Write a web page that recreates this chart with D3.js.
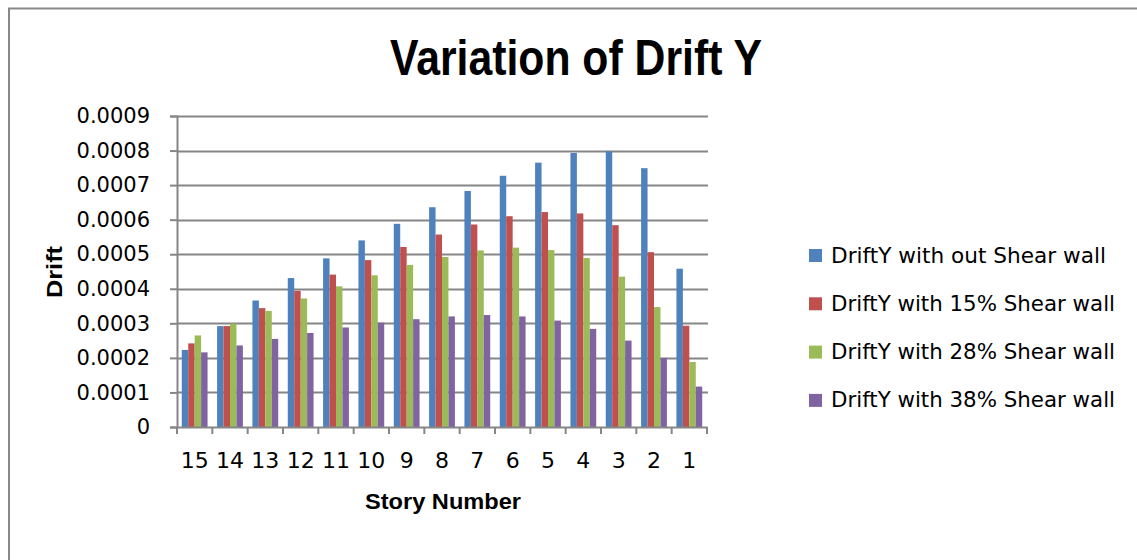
<!DOCTYPE html>
<html>
<head>
<meta charset="utf-8">
<script src="https://cdn.jsdelivr.net/npm/d3@7"></script>
<style>
  body { margin: 0; background: #fff; }
  text { font-family: "DejaVu Sans", sans-serif; fill: #000; }
</style>
</head>
<body>
<div class="viz"></div>
<script>
// Story numbers (x categories)
const stories = ["15", "14", "13", "12", "11", "10", "9", "8", "7", "6", "5", "4", "3", "2", "1"];

const seriesNames = [
  "DriftY with out Shear wall",
  "DriftY with 15% Shear wall",
  "DriftY with 28% Shear wall",
  "DriftY with 38% Shear wall",
];

const noWall = [0.000223, 0.000292, 0.000366, 0.000431, 0.000488, 0.00054, 0.000588, 0.000636, 0.000683, 0.000727, 0.000765, 0.000793, 0.000798, 0.000749, 0.000458];
const wall15 = [0.000242, 0.000292, 0.000344, 0.000394, 0.000441, 0.000483, 0.000521, 0.000557, 0.000586, 0.00061, 0.000622, 0.000618, 0.000584, 0.000506, 0.000293];
const wall28 = [0.000265, 0.000299, 0.000336, 0.000372, 0.000407, 0.000439, 0.000469, 0.000492, 0.000511, 0.000519, 0.000512, 0.000489, 0.000435, 0.000347, 0.000188];
const wall38 = [0.000216, 0.000236, 0.000255, 0.000272, 0.000288, 0.000302, 0.000312, 0.00032, 0.000324, 0.00032, 0.000308, 0.000284, 0.00025, 0.0002, 0.000117];

const yTicks = [0, 0.0001, 0.0002, 0.0003, 0.0004, 0.0005, 0.0006, 0.0007, 0.0008, 0.0009];

const colors = ["#4F81BD", "#C0504D", "#9BBB59", "#8064A2"];
const allSeries = [noWall, wall15, wall28, wall38];

const totalWidth = 1137;
const totalHeight = 560;
const plot = { left: 177, right: 707, top: 116, bottom: 427 };
const gridColor = "#868686";

const svg = d3.select(".viz")
  .append("svg")
  .attr("width", totalWidth)
  .attr("height", totalHeight);

// Chart border
svg.append("rect")
  .attr("x", 9)
  .attr("y", 8.5)
  .attr("width", 1140)
  .attr("height", 560)
  .attr("fill", "#fff")
  .attr("stroke", "#888")
  .attr("stroke-width", 2);

// Scales
const x0 = d3.scaleBand().domain(stories).range([plot.left, plot.right]).padding(0);
const bw = x0.bandwidth();
const x1 = d3.scaleBand().domain(d3.range(4)).range([bw * 0.135, bw * 0.865]).padding(0);
const y = d3.scaleLinear().domain([0, 0.0009]).range([plot.bottom, plot.top]);

// Gridlines
svg.append("g")
  .selectAll("line")
  .data(yTicks.slice(1))
  .enter()
  .append("line")
  .attr("x1", plot.left)
  .attr("x2", plot.right + 1)
  .attr("y1", (d) => Math.round(y(d)) + 0.5)
  .attr("y2", (d) => Math.round(y(d)) + 0.5)
  .attr("stroke", gridColor)
  .attr("stroke-width", 2);

// Bars
const groups = svg.append("g")
  .selectAll("g")
  .data(stories)
  .enter()
  .append("g")
  .attr("transform", (d) => `translate(${x0(d)},0)`);

groups.selectAll("rect")
  .data((d, i) => allSeries.map((s, k) => ({ k, v: s[i] })))
  .enter()
  .append("rect")
  .attr("x", (d) => x1(d.k))
  .attr("y", (d) => y(d.v))
  .attr("width", x1.bandwidth())
  .attr("height", (d) => y(0) - y(d.v))
  .attr("fill", (d) => colors[d.k]);

// Y axis
const yAxis = svg.append("g")
  .attr("transform", `translate(${plot.left},0)`)
  .call(d3.axisLeft(y).tickValues(yTicks).tickSize(7).tickPadding(20)
    .tickFormat((d) => (d === 0 ? "0" : d3.format(".4f")(d))));
yAxis.select(".domain").attr("stroke", gridColor).attr("stroke-width", 2);
yAxis.selectAll(".tick line").attr("stroke", gridColor).attr("stroke-width", 2);
yAxis.selectAll(".tick text")
  .style("font-family", "'DejaVu Sans', sans-serif")
  .style("font-size", "21px")
  .attr("fill", "#000");

// X axis
const xAxis = svg.append("g")
  .attr("transform", `translate(0,${plot.bottom})`)
  .call(d3.axisBottom(x0).tickSize(0).tickPadding(25));
xAxis.select(".domain").attr("stroke", gridColor).attr("stroke-width", 2);
xAxis.selectAll(".tick text")
  .style("font-family", "'DejaVu Sans', sans-serif")
  .style("font-size", "22px")
  .attr("fill", "#000");

// X tick marks at category boundaries
svg.append("g")
  .selectAll("line")
  .data(stories.concat(["end"]))
  .enter()
  .append("line")
  .attr("x1", (d, i) => plot.left + i * bw)
  .attr("x2", (d, i) => plot.left + i * bw)
  .attr("y1", plot.bottom)
  .attr("y2", plot.bottom + 7)
  .attr("stroke", gridColor)
  .attr("stroke-width", 2);

// Title
svg.append("text")
  .attr("x", 576)
  .attr("y", 75)
  .attr("text-anchor", "middle")
  .attr("textLength", 372)
  .attr("lengthAdjust", "spacingAndGlyphs")
  .style("font-family", "'Liberation Sans', Arial, sans-serif")
  .style("font-weight", "bold")
  .style("font-size", "50px")
  .text("Variation of Drift Y");

// Axis titles
svg.append("text")
  .attr("x", 443)
  .attr("y", 509)
  .attr("text-anchor", "middle")
  .attr("textLength", 156)
  .attr("lengthAdjust", "spacingAndGlyphs")
  .style("font-family", "'Liberation Sans', Arial, sans-serif")
  .style("font-weight", "bold")
  .style("font-size", "22px")
  .text("Story Number");

svg.append("text")
  .attr("transform", "translate(62,272) rotate(-90)")
  .attr("text-anchor", "middle")
  .attr("textLength", 52)
  .attr("lengthAdjust", "spacingAndGlyphs")
  .style("font-family", "'Liberation Sans', Arial, sans-serif")
  .style("font-weight", "bold")
  .style("font-size", "22px")
  .text("Drift");

// Legend
const legend = svg.append("g")
  .attr("transform", "translate(809,255)")
  .selectAll("g")
  .data(seriesNames)
  .enter()
  .append("g")
  .attr("transform", (d, i) => `translate(0,${i * 48.3})`);

legend.append("rect")
  .attr("x", 0)
  .attr("y", -6)
  .attr("width", 13)
  .attr("height", 13)
  .attr("fill", (d, i) => colors[i]);

legend.append("text")
  .attr("x", 22)
  .attr("y", 0)
  .attr("dy", "0.36em")
  .attr("textLength", (d, i) => (i === 0 ? 275 : 284))
  .attr("lengthAdjust", "spacingAndGlyphs")
  .style("font-family", "'DejaVu Sans', sans-serif")
  .style("font-size", "21px")
  .text((d) => d);
</script>
</body>
</html>
